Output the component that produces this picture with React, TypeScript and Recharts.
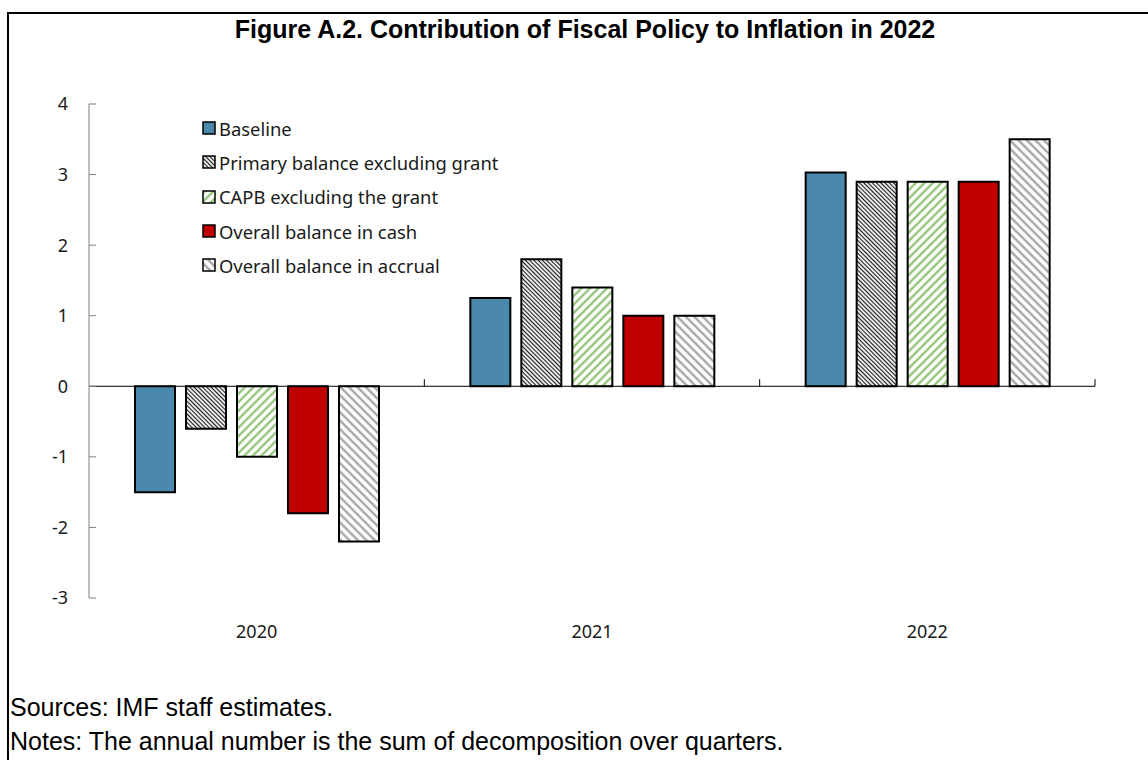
import React from 'react';
import { BarChart, Bar, XAxis, YAxis, ReferenceLine, Legend } from 'recharts';

const categories = ['2020', '2021', '2022'];
const baseline = [-1.5, 1.25, 3.03];
const primaryExGrant = [-0.6, 1.8, 2.9];
const capbExGrant = [-1.0, 1.4, 2.9];
const overallCash = [-1.8, 1.0, 2.9];
const overallAccrual = [-2.2, 1.0, 3.5];
const yTicks = [-3, -2, -1, 0, 1, 2, 3, 4];
const groupEdges = [1, 2, 3];

const seriesDefs = [
  { key: 'baseline', name: 'Baseline', values: baseline, pattern: null, color: '#4a89ab' },
  { key: 'primary', name: 'Primary balance excluding grant', values: primaryExGrant, pattern: 'primary', color: '#000' },
  { key: 'capb', name: 'CAPB excluding the grant', values: capbExGrant, pattern: 'capb', color: '#94c47c' },
  { key: 'cash', name: 'Overall balance in cash', values: overallCash, pattern: null, color: '#c00000' },
  { key: 'accrual', name: 'Overall balance in accrual', values: overallAccrual, pattern: 'accrual', color: '#a6a6a6' },
];

const data = categories.map((year, i) => {
  const row: Record<string, any> = { year };
  seriesDefs.forEach((s) => { row[s.key] = s.values[i]; });
  return row;
});

const TICK_FONT = '"Noto Sans", sans-serif';

function PatternDefs({ suffix }: { suffix: string }) {
  return (
    <defs>
      <pattern id={`primary${suffix}`} patternUnits="userSpaceOnUse" width="3" height="3" patternTransform="rotate(-45)">
        <rect width="3" height="3" fill="#fff" />
        <line x1="1.5" y1="0" x2="1.5" y2="3" stroke="#1a1a1a" strokeWidth="1.2" />
      </pattern>
      <pattern id={`capb${suffix}`} patternUnits="userSpaceOnUse" width="6" height="6" patternTransform="rotate(45)">
        <rect width="6" height="6" fill="#fff" />
        <line x1="3" y1="0" x2="3" y2="6" stroke="#94c47c" strokeWidth="2.4" />
      </pattern>
      <pattern id={`accrual${suffix}`} patternUnits="userSpaceOnUse" width="6" height="6" patternTransform="rotate(-45)">
        <rect width="6" height="6" fill="#fff" />
        <line x1="3" y1="0" x2="3" y2="6" stroke="#a6a6a6" strokeWidth="2.4" />
      </pattern>
    </defs>
  );
}

const fillFor = (s: any, suffix: string) => (s.pattern ? `url(#${s.pattern}${suffix})` : s.color);

const YTick = (props: any) => {
  const { x, y, payload } = props;
  return (
    <g>
      <text x={x} y={y} dy="0.355em" textAnchor="end" fontFamily={TICK_FONT} fontSize={18} fill="#1a1a1a">
        {payload.value}
      </text>
      <line x1={x + 21} x2={x + 28} y1={y} y2={y} stroke="#7f7f7f" strokeWidth={1} />
    </g>
  );
};

const XTick = (props: any) => {
  const { x, y, payload } = props;
  return (
    <text x={x} y={y} dy="0.71em" textAnchor="middle" fontFamily={TICK_FONT} fontSize={18} fill="#1a1a1a">
      {payload.value}
    </text>
  );
};

const LegendContent = () => (
  <div style={{ fontFamily: TICK_FONT, fontSize: 18.4, color: '#1a1a1a' }}>
    {seriesDefs.map((s) => (
      <div key={s.key} style={{ display: 'flex', alignItems: 'center', height: 34.3, whiteSpace: 'nowrap' }}>
        <svg width={14} height={14} style={{ marginRight: 3, flex: 'none' }}>
          <PatternDefs suffix={`-lg-${s.key}`} />
          <rect x={1} y={1} width={12} height={12} fill={fillFor(s, `-lg-${s.key}`)} stroke="#000" strokeWidth={1.5} />
        </svg>
        <span>{s.name}</span>
      </div>
    ))}
  </div>
);

export default function App() {
  return (
    <div style={{ position: 'fixed', left: 0, top: 0, width: 1148, height: 760, background: '#fff', overflow: 'hidden' }}>
      <div style={{ position: 'absolute', left: 7, top: 12, width: 1160, height: 800, border: '2px solid #000', boxSizing: 'border-box' }} />
      <div style={{ position: 'absolute', left: 585, top: 14, transform: 'translateX(-50%)', whiteSpace: 'nowrap', fontFamily: '"Liberation Sans", Arial, sans-serif', fontWeight: 'bold', fontSize: 25, lineHeight: '30px', color: '#000' }}>
        Figure A.2. Contribution of Fiscal Policy to Inflation in 2022
      </div>
      <div style={{ position: 'absolute', left: 0, top: 0 }}>
        <BarChart width={1148} height={760} data={data} margin={{ top: 104, right: 53, bottom: 132, left: 29 }} barSize={40} barGap={11}>
          <PatternDefs suffix="" />
          <XAxis dataKey="year" axisLine={false} tickLine={false} tickSize={0} tickMargin={27} tick={<XTick />} interval={0} />
          <XAxis xAxisId="edges" type="number" dataKey="edge" domain={[0, 3]} allowDataOverflow hide />
          <YAxis domain={[-3, 4]} ticks={yTicks} interval={0} width={60} tickSize={0} tickMargin={21} tickLine={false} axisLine={{ stroke: '#7f7f7f', strokeWidth: 1 }} tick={<YTick />} allowDataOverflow />
          <ReferenceLine y={0} stroke="#000" strokeWidth={1} />
          {groupEdges.map((e) => (
            <ReferenceLine key={e} xAxisId="edges" segment={[{ x: e, y: 0 }, { x: e, y: 0.1 }]} stroke="#000" strokeWidth={1} />
          ))}
          <Legend layout="vertical" verticalAlign="middle" align="center" content={<LegendContent />} wrapperStyle={{ left: 202, top: 111, width: 400 }} />
          {seriesDefs.map((s) => (
            <Bar key={s.key} dataKey={s.key} name={s.name} fill={fillFor(s, '')} stroke="#000" strokeWidth={2} isAnimationActive={false} />
          ))}
        </BarChart>
      </div>
      <div style={{ position: 'absolute', left: 10, top: 690, fontFamily: '"Liberation Sans", Arial, sans-serif', fontSize: 25, color: '#000', lineHeight: '34px', whiteSpace: 'nowrap' }}>
        <div>Sources: IMF staff estimates.</div>
        <div>Notes: The annual number is the sum of decomposition over quarters.</div>
      </div>
    </div>
  );
}
